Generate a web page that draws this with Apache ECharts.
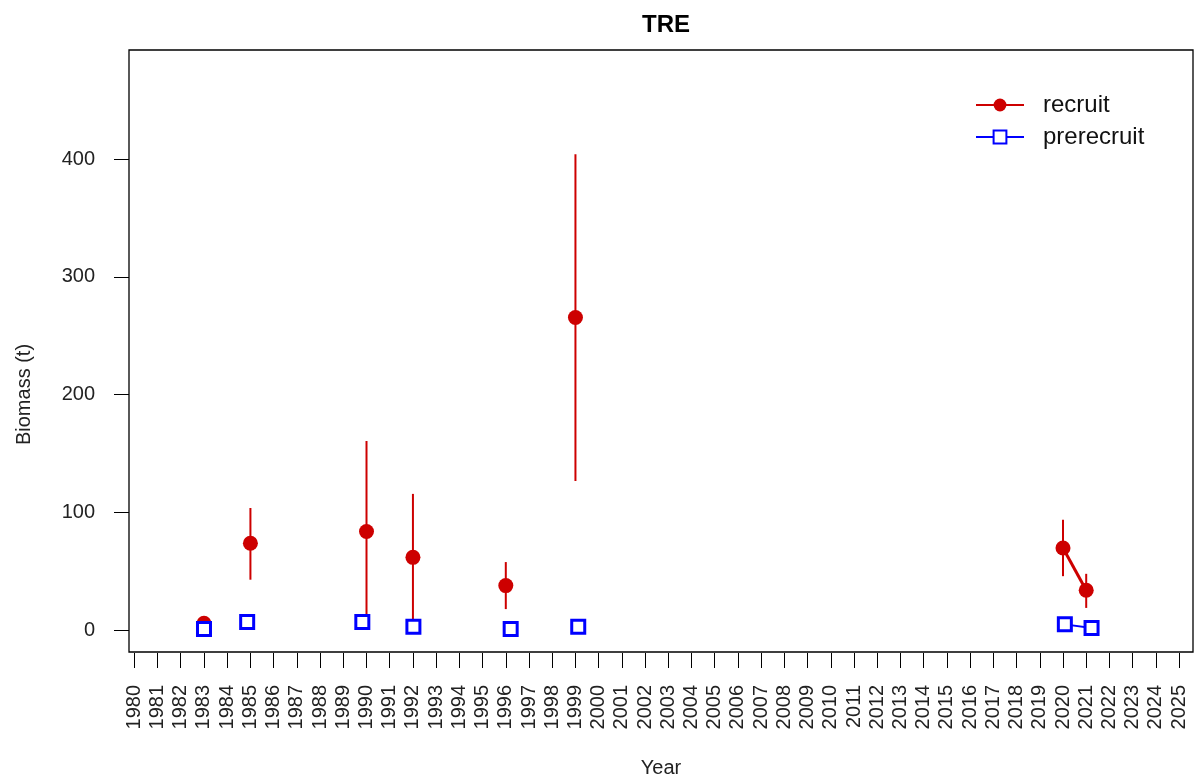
<!DOCTYPE html>
<html>
<head>
<meta charset="utf-8">
<title>TRE</title>
<script src="https://cdn.jsdelivr.net/npm/echarts@6/dist/echarts.min.js"></script>
<style>
    html, body { margin: 0; padding: 0; background: #fff; }
    #chart-pane { width: 1197px; height: 783px; }
</style>
</head>
<body>
<div id="chart-pane"></div>
<script>
// recruit survey index (t) with error bar limits
var recYears = [1983, 1985, 1990, 1992, 1996, 1999, 2020, 2021];
var recVals  = [5, 73, 83, 61, 37, 265, 69, 33];
var recLo    = [null, 42, 7, 5, 17, 126, 45, 18];
var recHi    = [null, 103, 160, 115, 57, 404, 93, 47];

// prerecruit, plotted slightly jittered on x
var preX    = [1983.0, 1984.86, 1989.82, 1992.02, 1996.21, 1999.12, 2020.08, 2021.23];
var preVals = [0, 6, 6, 2, 0, 2, 4, 1];

var yearTicks = [1980, 2025];
var biomassTicks = [0, 400];

var redColor  = '#CD0000';
var blueColor = '#0000FF';

// points are only joined for consecutive years
function withBreaks(xs, ys) {
    var out = [];
    for (var i = 0; i < xs.length; i++) {
        if (i > 0 && xs[i] - xs[i - 1] > 1.5) {
            out.push([(xs[i] + xs[i - 1]) / 2, '-']);
        }
        out.push([xs[i], ys[i]]);
    }
    return out;
}

function errorBarData() {
    var out = [];
    for (var i = 0; i < recYears.length; i++) {
        if (recLo[i] == null || recHi[i] == null) continue;
        out.push([recYears[i], recLo[i], recHi[i]]);
    }
    return out;
}

function renderErrorBar(params, api) {
    var lo = api.coord([api.value(0), api.value(1)]);
    var hi = api.coord([api.value(0), api.value(2)]);
    return {
        type: 'line',
        shape: { x1: lo[0], y1: lo[1], x2: hi[0], y2: hi[1] },
        style: { stroke: redColor, lineWidth: 2 }
    };
}

var chart = echarts.init(document.getElementById('chart-pane'), null, { renderer: 'canvas' });

var labelFont = { fontFamily: 'Liberation Sans, Arial, sans-serif', fontSize: 20, color: '#222' };

var option = {
    animation: false,
    backgroundColor: '#fff',
    title: {
        text: 'TRE',
        left: 661,
        textAlign: 'center',
        top: 8,
        textStyle: { fontFamily: 'Liberation Sans, Arial, sans-serif', fontSize: 24, fontWeight: 'bold', color: '#000' }
    },
    legend: {
        orient: 'vertical',
        left: 970,
        top: 88,
        itemWidth: 48,
        itemHeight: 16,
        itemGap: 8,
        data: ['recruit', 'prerecruit'],
        textStyle: { fontFamily: 'Liberation Sans, Arial, sans-serif', fontSize: 24, color: '#111', padding: [0, 0, 0, 14] }
    },
    grid: [
        // plot box
        { left: 129, right: 4, top: 50, bottom: 130, show: true, borderColor: '#000', borderWidth: 1.3 },
        // tick axes
        { left: 134.3, right: 17.9, top: 159, bottom: 153 }
    ],
    xAxis: [
        {
            type: 'value', gridIndex: 0, min: 1979.77, max: 2025.6,
            name: 'Year', nameLocation: 'middle', nameGap: 106,
            nameTextStyle: labelFont,
            axisLine: { show: false, onZero: false }, axisTick: { show: false },
            axisLabel: { show: false }, splitLine: { show: false }
        },
        {
            type: 'value', gridIndex: 1, min: yearTicks[0], max: yearTicks[1], interval: 1,
            offset: 23,
            axisLine: { show: false, onZero: false },
            axisTick: { length: 15, lineStyle: { color: '#000', width: 1 } },
            axisLabel: Object.assign({
                rotate: 90, margin: 32,
                formatter: function (v) { return String(v); }
            }, labelFont),
            splitLine: { show: false }
        }
    ],
    yAxis: [
        {
            type: 'value', gridIndex: 0, min: -19.5, max: 492.6,
            axisLine: { show: false, onZero: false }, axisTick: { show: false },
            axisLabel: { show: false }, splitLine: { show: false }
        },
        {
            type: 'value', gridIndex: 1, min: biomassTicks[0], max: biomassTicks[1], interval: 100,
            offset: 5.3,
            name: 'Biomass (t)', nameLocation: 'middle', nameGap: 95,
            nameTextStyle: labelFont,
            axisLine: { show: false, onZero: false },
            axisTick: { length: 15, lineStyle: { color: '#000', width: 1 } },
            axisLabel: Object.assign({ margin: 34 }, labelFont),
            splitLine: { show: false }
        }
    ],
    series: [
        {
            name: 'error',
            type: 'custom',
            xAxisIndex: 0, yAxisIndex: 0,
            renderItem: renderErrorBar,
            data: errorBarData(),
            z: 1
        },
        {
            name: 'recruit',
            type: 'line',
            xAxisIndex: 0, yAxisIndex: 0,
            data: withBreaks(recYears, recVals),
            symbol: 'circle',
            symbolSize: 15,
            showAllSymbol: true,
            connectNulls: false,
            itemStyle: { color: redColor },
            lineStyle: { color: redColor, width: 3 },
            z: 2
        },
        {
            name: 'prerecruit',
            type: 'line',
            xAxisIndex: 0, yAxisIndex: 0,
            data: withBreaks(preX, preVals),
            symbol: 'rect',
            symbolSize: 13,
            showAllSymbol: true,
            connectNulls: false,
            itemStyle: { color: '#fff', borderColor: blueColor, borderWidth: 3 },
            lineStyle: { color: blueColor, width: 2 },
            z: 3
        }
    ]
};

chart.setOption(option);
</script>
</body>
</html>
